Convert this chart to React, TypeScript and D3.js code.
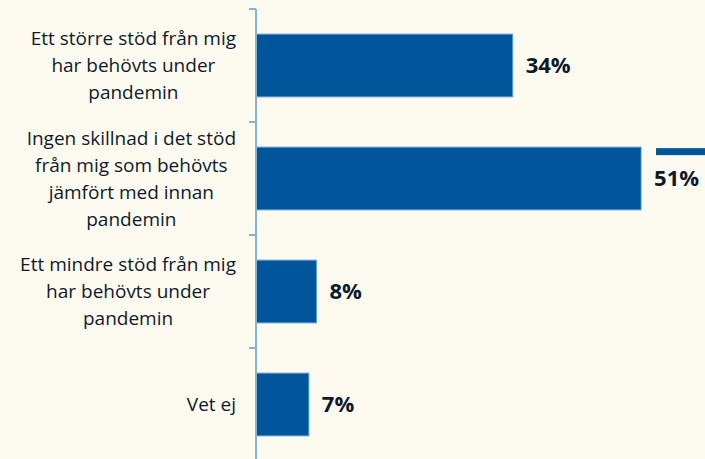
import { useEffect, useRef } from "react";
import * as d3 from "d3";

const categories = [
  ["Ett större stöd från mig", "har behövts under", "pandemin"],
  ["Ingen skillnad i det stöd", "från mig som behövts", "jämfört med innan", "pandemin"],
  ["Ett mindre stöd från mig", "har behövts under", "pandemin"],
  ["Vet ej"],
];
const values = [34, 51, 8, 7];
const valueLabels = ["34%", "51%", "8%", "7%"];

const W = 705;
const H = 459;
const BAR = "#00559b";
const BAR_EDGE = "#5d9bd3";
const AXIS = "#7fb4de";
const TEXT = "#0d1a2e";

export default function App() {
  const ref = useRef<SVGSVGElement | null>(null);

  useEffect(() => {
    if (!ref.current) return;
    const svg = d3.select(ref.current);
    svg.selectAll("*").remove();

    const axisX = 256;
    const y = d3
      .scaleBand<number>()
      .domain(d3.range(categories.length))
      .range([9, 461]);
    const x = d3.scaleLinear().domain([0, 60]).range([axisX, axisX + 60 * 7.55]);
    const barH = y.bandwidth() * 0.555;

    svg.append("rect").attr("width", W).attr("height", H).attr("fill", "#fdfbf0");

    // bars
    svg
      .selectAll("rect.bar")
      .data(values)
      .enter()
      .append("rect")
      .attr("class", "bar")
      .attr("x", x(0))
      .attr("y", (_, i) => y(i)! + (y.bandwidth() - barH) / 2)
      .attr("width", (d) => x(d) - x(0))
      .attr("height", barH)
      .attr("fill", BAR)
      .attr("stroke", BAR_EDGE)
      .attr("stroke-width", 1);

    // cropped legend swatch at right edge (beside the 51% bar)
    const b2 = 1;
    svg
      .append("rect")
      .attr("x", x(values[b2]) + 15)
      .attr("y", y(b2)! + (y.bandwidth() - barH) / 2 + 1)
      .attr("width", 60)
      .attr("height", 7)
      .attr("fill", BAR);

    // axis line + ticks
    svg
      .append("line")
      .attr("x1", axisX)
      .attr("x2", axisX)
      .attr("y1", 9)
      .attr("y2", H)
      .attr("stroke", AXIS)
      .attr("stroke-width", 2);
    const ticks = d3.range(categories.length).map((i) => y(i)!);
    svg
      .selectAll("line.tick")
      .data(ticks)
      .enter()
      .append("line")
      .attr("class", "tick")
      .attr("x1", axisX - 7)
      .attr("x2", axisX)
      .attr("y1", (d) => d)
      .attr("y2", (d) => d)
      .attr("stroke", AXIS)
      .attr("stroke-width", 2);

    // category labels: block right-aligned, lines centered
    const lineH = 27;
    categories.forEach((lines, i) => {
      const t = svg
        .append("text")
        .attr("font-family", "'Open Sans', sans-serif")
        .attr("font-size", 19)
        .attr("fill", TEXT)
        .attr("text-anchor", "middle");
      const cy = y(i)! + y.bandwidth() / 2;
      const top = cy - ((lines.length - 1) * lineH) / 2;
      lines.forEach((s, j) => {
        t.append("tspan").attr("x", 0).attr("y", top + j * lineH).attr("dy", "0.35em").text(s);
      });
      const widths = (t.selectAll("tspan").nodes() as SVGTSpanElement[]).map((n) =>
        n.getComputedTextLength()
      );
      const maxW = d3.max(widths) || 0;
      t.attr("transform", `translate(${236 - maxW / 2},0)`);
    });

    // value labels
    svg
      .selectAll("text.val")
      .data(values)
      .enter()
      .append("text")
      .attr("class", "val")
      .attr("x", (d) => x(d) + 13)
      .attr("y", (_, i) => y(i)! + y.bandwidth() / 2)
      .attr("dy", "0.36em")
      .attr("font-family", "'Open Sans', sans-serif")
      .attr("font-weight", 700)
      .attr("font-size", 22)
      .attr("fill", TEXT)
      .text((_, i) => valueLabels[i]);
  }, []);

  return (
    <div style={{ position: "fixed", left: 0, top: 0 }}>
      <svg ref={ref} width={W} height={H} style={{ display: "block" }} />
    </div>
  );
}
